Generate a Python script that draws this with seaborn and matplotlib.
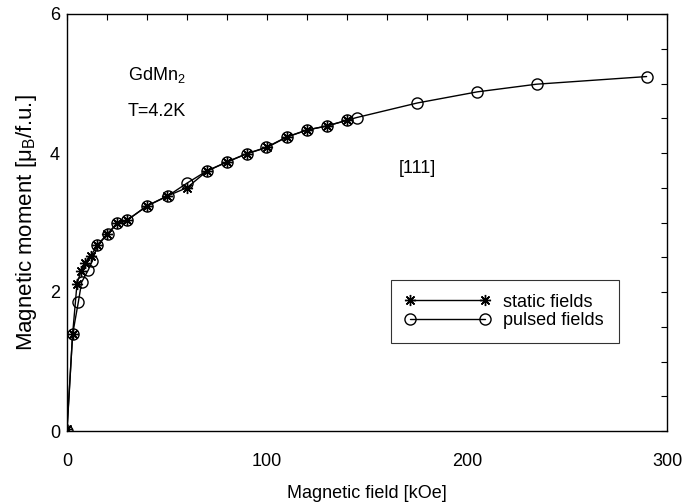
import matplotlib
matplotlib.use("Agg")
import matplotlib.pyplot as plt
import seaborn as sns
import pandas as pd
from matplotlib.ticker import MultipleLocator

static_field = [0, 2.8, 5, 7, 9, 12, 15, 20, 25, 30, 40, 50, 60, 70, 80, 90, 100, 110, 120, 130, 140]
static_moment = [0.03, 1.39, 2.12, 2.30, 2.42, 2.52, 2.67, 2.83, 2.99, 3.03, 3.24, 3.38, 3.50, 3.74,
                 3.87, 3.99, 4.08, 4.23, 4.33, 4.39, 4.47]

pulsed_field = [0, 2.8, 5.7, 7.3, 10.7, 12.7, 15.2, 20.3, 25.2, 29.8, 40.2, 50.3, 60.2, 69.8, 79.8,
                89.8, 99.5, 109.8, 119.8, 130.2, 139.8, 144.8, 175.2, 205.2, 234.8, 289.8]
pulsed_moment = [0.0, 1.39, 1.86, 2.14, 2.32, 2.45, 2.67, 2.83, 2.99, 3.03, 3.24, 3.38, 3.57, 3.74, 3.87,
                 3.99, 4.08, 4.23, 4.33, 4.39, 4.47, 4.51, 4.72, 4.88, 4.99, 5.10]

sns.set_theme(style="white")
plt.rcParams['font.family'] = ['Liberation Sans', 'DejaVu Sans']
plt.rcParams['mathtext.fontset'] = 'custom'
plt.rcParams['mathtext.rm'] = 'Liberation Sans'
plt.rcParams['mathtext.it'] = 'Liberation Sans'
for k in ['text.color', 'axes.labelcolor', 'xtick.color', 'ytick.color', 'axes.edgecolor']:
    plt.rcParams[k] = 'black'

fig = plt.figure(figsize=(6.84, 5.04), dpi=100)
ax = fig.add_axes([67/684, 1 - 431/504, 600/684, 417/504])

df_s = pd.DataFrame({"H": static_field, "M": static_moment})
df_p = pd.DataFrame({"H": pulsed_field, "M": pulsed_moment})

ast = (8, 2, 0)
sns.lineplot(data=df_s, x="H", y="M", ax=ax, sort=False, color="black", lw=1.0,
             marker=ast, markersize=8, markeredgecolor="black", markeredgewidth=1.0,
             label="static fields")
sns.lineplot(data=df_p, x="H", y="M", ax=ax, sort=False, color="black", lw=1.0,
             marker="o", markersize=8, markerfacecolor="none", markeredgecolor="black",
             markeredgewidth=1.0, label="pulsed fields")

ax.set_xlim(0, 300)
ax.set_ylim(0, 6)
ax.xaxis.set_major_locator(MultipleLocator(100))
ax.xaxis.set_minor_locator(MultipleLocator(20))
ax.yaxis.set_major_locator(MultipleLocator(2))
ax.yaxis.set_minor_locator(MultipleLocator(0.5))
ax.tick_params(which="both", direction="in", top=True, right=True, length=4, width=0.8,
               color="black", labelsize=13)
ax.tick_params(axis="x", pad=16)
ax.tick_params(axis="y", pad=5)
for s in ax.spines.values():
    s.set_color("black")
    s.set_linewidth(1.0)

ax.set_xlabel("Magnetic field [kOe]", fontsize=13, labelpad=11)
ax.set_ylabel(r"Magnetic moment [$\mu_B$/f.u.]", fontsize=16, labelpad=8)

ax.text(30.5, 5.12, r"GdMn$_2$", fontsize=13, va="center", ha="left")
ax.text(30.5, 4.6, "T=4.2K", fontsize=13, va="center", ha="left")
ax.text(175, 3.78, "[111]", fontsize=13, va="center", ha="center")

leg = ax.legend(loc="upper left", bbox_to_anchor=(0.54, 0.212, 0.38, 0.15), mode="expand",
                fontsize=13, handlelength=4.75, numpoints=2, frameon=True, fancybox=False,
                borderpad=0.75, labelspacing=0.1, handletextpad=0.7, borderaxespad=0)
leg.get_frame().set_edgecolor("black")
leg.get_frame().set_linewidth(0.8)

fig.savefig("out.png", dpi=100)
